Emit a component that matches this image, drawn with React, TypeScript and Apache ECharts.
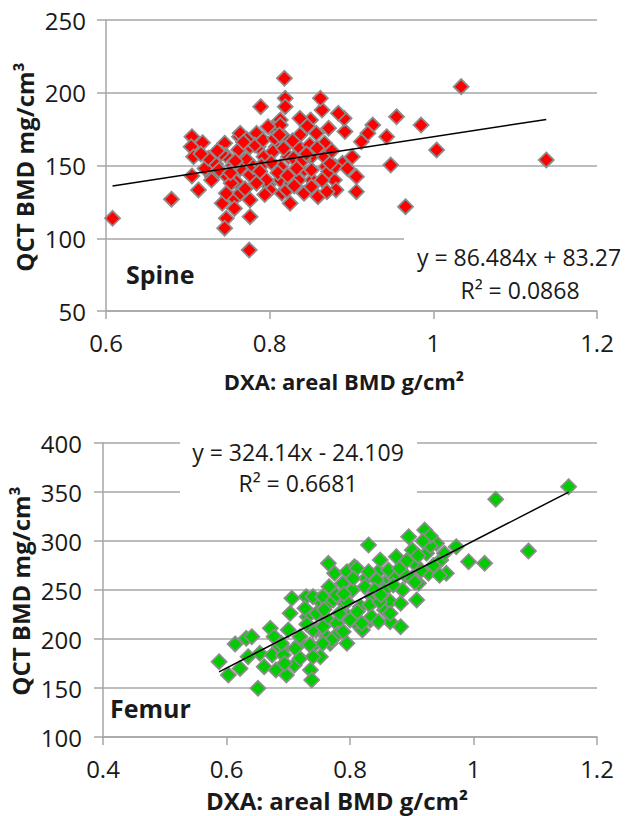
import React, { useEffect, useRef } from 'react';
import * as echarts from 'echarts';

// ---- Spine (top panel) ----
const spineDXA = [
  0.608, 0.68, 0.775, 0.818, 1.034, 1.138, 0.966, 1.004, 0.985, 0.955, 0.948, 0.943, 0.926, 0.92, 0.912,
  0.906, 0.906, 0.901, 0.892, 0.891, 0.884, 0.889, 0.879, 0.881, 0.872, 0.869, 0.867, 0.864, 0.862, 0.859,
  0.857, 0.852, 0.851, 0.85, 0.842, 0.84, 0.837, 0.835, 0.833, 0.825, 0.823, 0.819, 0.819, 0.817, 0.815,
  0.813, 0.813, 0.808, 0.803, 0.798, 0.793, 0.789, 0.786, 0.784, 0.784, 0.776, 0.776, 0.769, 0.764, 0.763,
  0.759, 0.757, 0.757, 0.745, 0.746, 0.742, 0.747, 0.745, 0.732, 0.73, 0.721, 0.718, 0.713, 0.705, 0.704,
  0.707, 0.705, 0.734, 0.729, 0.741, 0.748, 0.753, 0.747, 0.764, 0.762, 0.772, 0.776, 0.764, 0.776, 0.764,
  0.867, 0.872, 0.864, 0.87, 0.851, 0.851, 0.835, 0.821, 0.813, 0.8, 0.796, 0.784, 0.78, 0.782, 0.792,
  0.806, 0.804, 0.817, 0.813, 0.798, 0.837, 0.849, 0.829, 0.841, 0.833, 0.88, 0.874, 0.826, 0.79, 0.772,
  0.755, 0.81, 0.845, 0.828, 0.725, 0.738, 0.758, 0.768, 0.788, 0.802, 0.822, 0.846, 0.858, 0.876, 0.895,
  0.77, 0.794, 0.812, 0.83, 0.752, 0.736, 0.716,
];
const spineQCT = [
  113.7, 126.8, 91.9, 209.9, 204.2, 153.8, 121.7, 160.7, 177.8, 183.5, 150.3, 169.8, 177.8, 172.1, 166.4,
  142.3, 132, 156, 173.3, 182.4, 185.9, 151.5, 140, 133.2, 175.6, 149.2, 165.3, 188.1, 196.2, 128.6,
  172.1, 140, 156, 181.3, 130.9, 145.8, 182.4, 162.9, 142.3, 124, 156, 196.2, 190.4, 169.8, 130.9,
  181.3, 149.2, 162.9, 175.6, 136.6, 156, 190.4, 162.9, 172.1, 144.7, 114.8, 126.3, 153.8, 161.8, 169.8,
  138.9, 127.4, 120.5, 165.3, 157.2, 124, 113.7, 106.9, 150.3, 142.3, 148, 165.7, 133.2, 169.8, 162.9,
  156, 142.8, 151, 140, 158.4, 142.3, 137.8, 130.9, 172.1, 160.7, 153.8, 162.9, 148, 143.5, 130.9,
  156, 145.8, 140, 132, 146.9, 135.4, 140, 133, 140, 133.2, 140, 137.8, 149.2, 164.1, 167.5,
  168.7, 159.5, 161.8, 177.8, 176.7, 171, 164.1, 155, 153.8, 148, 149.2, 151.5, 138, 150, 168,
  150, 145, 158, 167, 155, 147, 153, 166, 146, 152, 143, 177, 162, 160, 148,
  134, 130, 171, 136, 145, 160, 158,
];
const spineSlope = 86.484;
const spineIntercept = 83.27;
const spineEquation = ['y = 86.484x + 83.27', 'R\u00b2 = 0.0868'];

// ---- Femur (bottom panel) ----
const femurDXA = [
  0.588, 0.603, 0.614, 0.632, 0.641, 0.622, 0.635, 0.651, 0.654, 0.661, 0.671, 0.677, 0.674, 0.68, 0.697,
  0.693, 0.703, 0.706, 0.71, 0.7, 0.719, 0.729, 0.731, 0.736, 0.738, 0.739, 0.745, 0.749, 0.752, 0.762,
  0.765, 0.766, 0.765, 0.768, 0.775, 0.778, 0.781, 0.788, 0.791, 0.797, 0.807, 0.804, 0.81, 0.82, 0.817,
  0.826, 0.83, 0.833, 0.836, 0.846, 0.849, 0.856, 0.856, 0.865, 0.865, 0.872, 0.875, 0.882, 0.885, 0.882,
  0.895, 0.901, 0.908, 0.904, 0.911, 0.921, 0.924, 0.924, 0.927, 0.94, 0.947, 0.953, 0.956, 0.972, 0.992,
  1.018, 1.036, 1.089, 1.154, 0.686, 0.692, 0.795, 0.811, 0.83, 0.862, 0.824, 0.843, 0.856, 0.74,
  0.756, 0.773, 0.795, 0.832, 0.848, 0.865, 0.727, 0.746, 0.762, 0.783, 0.8, 0.819, 0.835, 0.846,
  0.719, 0.74, 0.756, 0.77, 0.789, 0.795, 0.689, 0.711, 0.735, 0.756, 0.694, 0.719, 0.74, 0.915,
  0.93, 0.935, 0.91, 0.89, 0.88, 0.9, 0.945, 0.93, 0.918, 0.778, 0.805, 0.84, 0.87, 0.892, 0.905,
  0.758, 0.79, 0.812, 0.73, 0.85,
];
const femurQCT = [
  176.8, 163.3, 194.9, 200.7, 202.4, 170, 181.9, 149.7, 185.4, 171.7, 210.9, 202.4, 183.7, 168.4, 163.3,
  190.5, 226.2, 241.5, 173.5, 209.2, 195.6, 243.2, 222.8, 168.4, 158.2, 192.2, 209.2, 239.8, 181.9, 202.4,
  277.2, 253.4, 236.4, 195.6, 267, 216, 205.8, 256.8, 236.4, 222.8, 273.8, 250, 216, 209.2, 233,
  261.9, 296, 219.4, 243.2, 268.7, 280.6, 256.8, 229.6, 217.7, 238.2, 263.6, 284, 212.6, 250, 236.4,
  304.4, 290.8, 239.8, 277.2, 256.8, 311.2, 301, 287.4, 267, 297.7, 280.6, 287.4, 267, 294.2, 278.9,
  277.2, 342.5, 289.8, 355.4, 192.2, 183.7, 268.7, 272.1, 268.7, 270.4, 253.4, 260.2, 250, 243.2,
  243.2, 239.8, 238.1, 234.7, 238.1, 226.2, 231.3, 226.2, 221.1, 226.2, 219.4, 216, 222.8, 217.7,
  202.4, 209.2, 212.6, 199, 207.5, 195.6, 195.6, 190.5, 193.9, 195.6, 175.2, 180.3, 181.9, 270,
  295, 275, 285, 265, 272, 262, 265, 305, 300, 245, 262, 250, 255, 280, 258,
  230, 246, 228, 215, 245,
];
const femurSlope = 324.14;
const femurIntercept = -24.109;
const femurEquation = ['y = 324.14x - 24.109', 'R\u00b2 = 0.6681'];

const yTitle = 'QCT BMD mg/cm\u00b3';
const xTitle = 'DXA: areal BMD g/cm\u00b2';

const FONT = '"Open Sans", "Noto Sans", sans-serif';
const GRID_COLOR = '#a6a6a6';

function pairs(xs: number[], ys: number[]) {
  return xs.map((x, i) => [x, ys[i]]);
}
function trend(xs: number[], slope: number, intercept: number) {
  const lo = Math.min(...xs);
  const hi = Math.max(...xs);
  return [
    [lo, slope * lo + intercept],
    [hi, slope * hi + intercept],
  ];
}

function axisX(gridIndex: number, min: number, margin: number) {
  return {
    type: 'value',
    gridIndex,
    min,
    max: 1.2,
    interval: 0.2,
    axisLine: { show: true, onZero: false, lineStyle: { color: GRID_COLOR, width: 1.5 } },
    axisTick: { show: true, length: 8, lineStyle: { color: GRID_COLOR, width: 1.5 } },
    splitLine: { show: false },
    axisLabel: { color: '#1a1a1a', fontSize: 24, fontFamily: FONT, margin },
  };
}
function axisY(gridIndex: number, min: number, max: number, margin: number) {
  return {
    type: 'value',
    gridIndex,
    min,
    max,
    interval: 50,
    axisLine: { show: true, onZero: false, lineStyle: { color: GRID_COLOR, width: 1.5 } },
    axisTick: { show: true, length: 9, lineStyle: { color: GRID_COLOR, width: 1.5 } },
    splitLine: { show: true, lineStyle: { color: GRID_COLOR, width: 1.5 } },
    axisLabel: { color: '#1a1a1a', fontSize: 24, fontFamily: FONT, margin },
  };
}

function txt(text: string, x: number, y: number, size: number, bold: boolean, align = 'center', rotation = 0) {
  return {
    type: 'text',
    x,
    y,
    rotation,
    z: 100,
    style: {
      text,
      fill: '#1a1a1a',
      font: `${bold ? 'bold ' : ''}${size}px ${FONT}`,
      align,
      verticalAlign: 'middle',
    },
  };
}

export default function App() {
  const ref = useRef<HTMLDivElement>(null);
  useEffect(() => {
    if (!ref.current) return;
    const chart = echarts.init(ref.current, undefined, { renderer: 'svg' });
    const scatterStyle = (color: string) => ({
      type: 'scatter',
      symbol: 'diamond',
      symbolSize: 15,
      itemStyle: { color, borderColor: '#8c8c8c', borderWidth: 1.8, opacity: 1 },
      z: 2,
    });
    chart.setOption({
      animation: false,
      backgroundColor: '#ffffff',
      textStyle: { fontFamily: FONT },
      grid: [
        { left: 106, top: 20, width: 491, height: 291, outerBoundsMode: 'none' },
        { left: 103, top: 443, width: 494, height: 294, outerBoundsMode: 'none' },
      ],
      xAxis: [axisX(0, 0.6, 19), axisX(1, 0.4, 19)],
      yAxis: [axisY(0, 50, 250, 20), axisY(1, 100, 400, 21)],
      series: [
        { ...scatterStyle('#ff0000'), name: 'Spine', xAxisIndex: 0, yAxisIndex: 0, data: pairs(spineDXA, spineQCT) },
        {
          type: 'line', name: 'Spine trend', xAxisIndex: 0, yAxisIndex: 0, symbol: 'none', z: 3,
          lineStyle: { color: '#000', width: 1.5 }, data: trend(spineDXA, spineSlope, spineIntercept),
        },
        { ...scatterStyle('#00cc00'), name: 'Femur', xAxisIndex: 1, yAxisIndex: 1, data: pairs(femurDXA, femurQCT) },
        {
          type: 'line', name: 'Femur trend', xAxisIndex: 1, yAxisIndex: 1, symbol: 'none', z: 3,
          lineStyle: { color: '#000', width: 1.5 }, data: trend(femurDXA, femurSlope, femurIntercept),
        },
      ],
      graphic: [
        { type: 'rect', z: 50, shape: { x: 404, y: 230, width: 196, height: 74 }, style: { fill: '#fff' } },
        { type: 'rect', z: 50, shape: { x: 180, y: 436, width: 237, height: 62 }, style: { fill: '#fff' } },
        txt(spineEquation[0], 519, 257, 23, false),
        txt(spineEquation[1], 520, 290, 23, false),
        txt(femurEquation[0], 298, 452, 23, false),
        txt(femurEquation[1], 298, 483, 23, false),
        txt('Spine', 126, 274, 25, true, 'left'),
        txt('Femur', 110, 708, 25, true, 'left'),
        txt(xTitle, 344, 381, 22, true),
        txt(xTitle, 337, 800, 24, true),
        txt(yTitle, 24, 167, 24, true, 'center', Math.PI / 2),
        txt(yTitle, 20, 591, 24, true, 'center', Math.PI / 2),
      ],
    });
    return () => chart.dispose();
  }, []);
  return <div ref={ref} style={{ position: 'absolute', left: 0, top: 0, width: 628, height: 816 }} />;
}
